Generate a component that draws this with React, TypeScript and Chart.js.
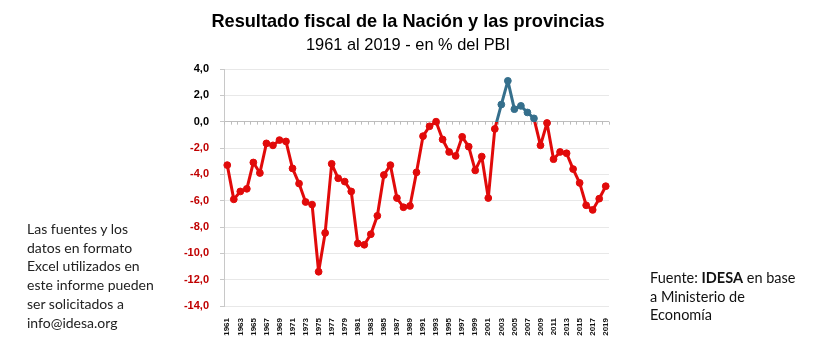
import React, { useEffect, useRef } from "react";
import { Chart, registerables } from "chart.js";

Chart.register(...registerables);

const TITLE = "Resultado fiscal de la Nación y las provincias";
const SUBTITLE = "1961 al 2019 - en % del PBI";

const YEARS: string[] = Array.from({ length: 59 }, (_, i) => String(1961 + i));

const RESULT: number[] = [
  -3.3, -5.9, -5.3, -5.1, -3.1, -3.9, -1.65, -1.8, -1.4, -1.5,
  -3.55, -4.7, -6.1, -6.3, -11.4, -8.45, -3.2, -4.3, -4.55, -5.3,
  -9.25, -9.35, -8.55, -7.15, -4.05, -3.3, -5.8, -6.5, -6.4, -3.85,
  -1.1, -0.35, 0.0, -1.35, -2.3, -2.6, -1.15, -1.9, -3.7, -2.65,
  -5.8, -0.55, 1.3, 3.1, 0.95, 1.2, 0.7, 0.25, -1.8, -0.1,
  -2.85, -2.3, -2.4, -3.6, -4.65, -6.35, -6.7, -5.85, -4.9,
];

const Y_MIN = -14;
const Y_MAX = 4;
const Y_STEP = 2;

const RED = "#e10a0a";
const BLUE = "#356f8c";
const NEG_LABEL = "#c00000";

const zeroTicks = {
  id: "zeroTicks",
  beforeDatasetsDraw(chart: any) {
    const { ctx, chartArea, scales } = chart;
    const y0 = scales.y.getPixelForValue(0);
    const n = chart.data.labels.length;
    const w = (chartArea.right - chartArea.left) / n;
    ctx.save();
    ctx.strokeStyle = "#bdbdbd";
    ctx.lineWidth = 1;
    ctx.beginPath();
    for (let i = 0; i <= n; i++) {
      const x = Math.round(chartArea.left + i * w) + 0.5;
      ctx.moveTo(x, y0);
      ctx.lineTo(x, y0 + 3);
    }
    ctx.stroke();
    ctx.restore();
  },
};

function lineColor(c: any) {
  const chart = c.chart;
  const { chartArea, scales } = chart;
  if (!chartArea) return RED;
  const y0 = scales.y.getPixelForValue(0);
  const g = chart.ctx.createLinearGradient(0, chartArea.top, 0, chartArea.bottom);
  const s = Math.min(1, Math.max(0, (y0 - chartArea.top) / (chartArea.bottom - chartArea.top)));
  g.addColorStop(0, BLUE);
  g.addColorStop(s, BLUE);
  g.addColorStop(s, RED);
  g.addColorStop(1, RED);
  return g;
}

function pointColor(c: any) {
  const v = c.raw as number;
  return v > 0 ? BLUE : RED;
}

function ChartView() {
  const ref = useRef<HTMLCanvasElement | null>(null);
  useEffect(() => {
    if (!ref.current) return;
    const chart = new Chart(ref.current, {
      type: "line",
      data: {
        labels: YEARS,
        datasets: [
          {
            data: RESULT,
            borderColor: lineColor as any,
            borderWidth: 3,
            borderJoinStyle: "round",
            borderCapStyle: "round",
            pointRadius: 3.4,
            pointBackgroundColor: pointColor as any,
            pointBorderColor: pointColor as any,
            pointBorderWidth: 1,
            tension: 0,
          },
        ],
      },
      options: {
        responsive: false,
        animation: false,
        events: [],
        layout: { padding: { left: 0, right: 222, top: 69, bottom: 0 } },
        plugins: {
          legend: { display: false },
          tooltip: { enabled: false },
          title: { display: false },
        },
        scales: {
          x: {
            offset: true,
            grid: { display: false },
            border: { display: false },
            ticks: {
              autoSkip: false,
              minRotation: 90,
              maxRotation: 90,
              padding: 4,
              color: "#111",
              font: { family: "Liberation Sans, Arial, sans-serif", size: 8, weight: "bold" },
              callback: (_v: any, i: number) => (i % 2 === 0 ? YEARS[i] : ""),
            },
            afterFit: (s: any) => {
              s.height = 32;
            },
          },
          y: {
            min: Y_MIN,
            max: Y_MAX,
            grid: {
              color: (c: any) => (c.tick && c.tick.value === 0 ? "#bdbdbd" : "#e8e8e8"),
              tickColor: "#c8c8c8",
              tickLength: 4,
              drawTicks: true,
            },
            border: { display: true, color: "#c8c8c8" },
            ticks: {
              stepSize: Y_STEP,
              padding: 11,
              color: (c: any) => (c.tick && c.tick.value < 0 ? NEG_LABEL : "#000"),
              font: { family: "Liberation Sans, Arial, sans-serif", size: 11, weight: "bold" },
              callback: (v: any) => Number(v).toFixed(1).replace(".", ","),
            },
            afterFit: (s: any) => {
              s.width = 224;
            },
          },
        },
      },
      plugins: [zeroTicks],
    });
    return () => chart.destroy();
  }, []);
  return <canvas ref={ref} width={831} height={338} style={{ position: "absolute", left: 0, top: 0 }} />;
}

export default function App() {
  const sans = "'Liberation Sans', Arial, sans-serif";
  const side = "Lato, 'Open Sans', sans-serif";
  return (
    <div
      style={{
        position: "fixed",
        left: 0,
        top: 0,
        width: 831,
        height: 338,
        background: "#fff",
        overflow: "hidden",
      }}
    >
      <ChartView />
      <div
        style={{
          position: "absolute",
          left: 0,
          width: 816,
          top: 11.8,
          textAlign: "center",
          fontFamily: sans,
          fontWeight: "bold",
          fontSize: 18.2,
          lineHeight: "18px",
          color: "#000",
          whiteSpace: "nowrap",
        }}
      >
        {TITLE}
      </div>
      <div
        style={{
          position: "absolute",
          left: 0,
          width: 816,
          top: 35.5,
          textAlign: "center",
          fontFamily: sans,
          fontSize: 16.4,
          lineHeight: "16.5px",
          color: "#000",
          whiteSpace: "nowrap",
        }}
      >
        {SUBTITLE}
      </div>
      <div
        style={{
          position: "absolute",
          left: 27,
          top: 220,
          fontFamily: side,
          fontSize: 14,
          lineHeight: "18.7px",
          color: "#222",
          whiteSpace: "nowrap",
        }}
      >
        Las fuentes y los
        <br />
        datos en formato
        <br />
        Excel utilizados en
        <br />
        este informe pueden
        <br />
        ser solicitados a
        <br />
        info@idesa.org
      </div>
      <div
        style={{
          position: "absolute",
          left: 650,
          top: 269,
          fontFamily: side,
          fontSize: 14.5,
          lineHeight: "18.7px",
          color: "#111",
          whiteSpace: "nowrap",
        }}
      >
        Fuente: <b>IDESA</b> en base
        <br />a Ministerio de
        <br />
        Economía
      </div>
    </div>
  );
}
